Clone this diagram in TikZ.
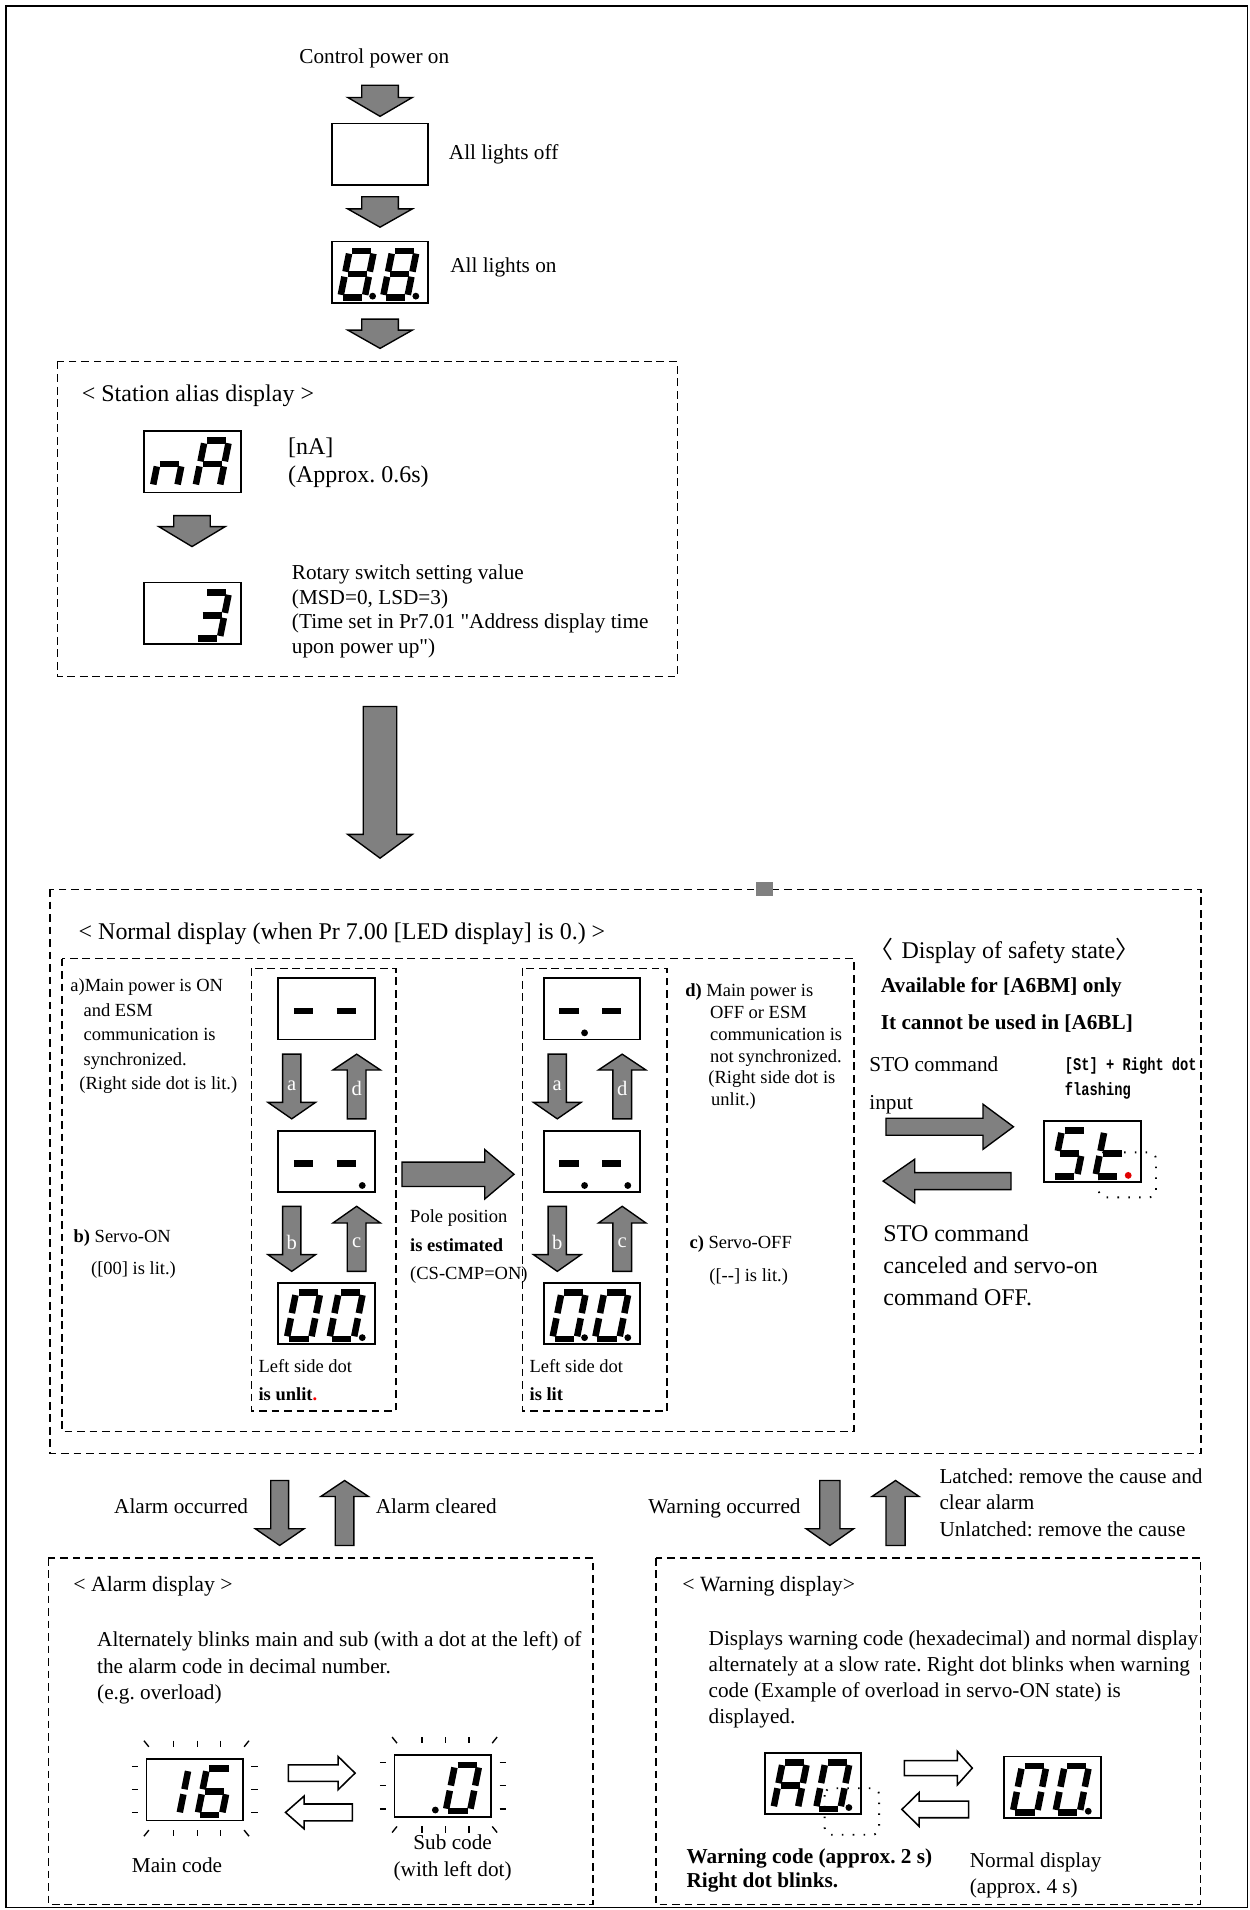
\documentclass[tikz,border=0pt]{standalone}
\usepackage{fontspec}
\setmainfont{Liberation Serif}[Ligatures=TeXOff]
\newfontfamily\cjkfont{Noto Sans CJK SC}
\newfontfamily\stfont[FakeStretch=0.77]{Liberation Mono}
\usetikzlibrary{calc}
\definecolor{arrowgray}{RGB}{128,128,128}
\definecolor{dotred}{RGB}{225,0,0}
\newcommand{\fs}[2]{\fontsize{#1}{#2}\selectfont}
\frenchspacing

% seven segment pieces (origin bottom left of a digit, y down)
\newcommand{\segA}{\draw[seg] (2.1,-38) -- (17.9,-38);}
\newcommand{\segB}{\draw[seg] (20,-35.9) -- (20,-21.1);}
\newcommand{\segC}{\draw[seg] (20,-16.9) -- (20,-2.1);}
\newcommand{\segD}{\draw[seg] (2.1,0) -- (17.9,0);}
\newcommand{\segE}{\draw[seg] (0,-2.1) -- (0,-16.9);}
\newcommand{\segF}{\draw[seg] (0,-21.1) -- (0,-35.9);}
\newcommand{\segG}{\draw[seg] (2.1,-19) -- (17.9,-19);}
\newcommand{\leddigit}[3]{%
  \begin{scope}[shift={($(#1.south west)+({7+35*#2},-4.5)$)},xslant=0.2]
    \foreach \sg in {#3}{\csname seg\sg\endcsname}
  \end{scope}}
\newcommand{\leddot}[3][black]{%
  \fill[#1] ($(#2.south west)+({33.5+35.5*#3},-5.5)$) circle (2.8);}
\newcommand{\blinkmarks}[1]{%
  \draw[blink] ($(#1.north west)+(-2,-15)$) -- ($(#1.north west)+(2,-10)$);
  \draw[blink] ($(#1.north east)+(1,-10)$) -- ($(#1.north east)+(5,-15)$);
  \draw[blink] ($(#1.south west)+(-2,13)$) -- ($(#1.south west)+(2,8)$);
  \draw[blink] ($(#1.south east)+(1,8)$) -- ($(#1.south east)+(5,13)$);
  \foreach \dx in {22.5,42,61}{
    \draw[blink] ($(#1.north west)+(\dx,-15)$) -- ($(#1.north west)+(\dx,-10)$);
    \draw[blink] ($(#1.south west)+(\dx,8)$) -- ($(#1.south west)+(\dx,13)$);}
  \foreach \dy in {6,25,44}{
    \draw[blink] ($(#1.north west)+(-12,\dy)$) -- ($(#1.north west)+(-7,\dy)$);
    \draw[blink] ($(#1.north east)+(7,\dy)$) -- ($(#1.north east)+(12,\dy)$);}}
% block arrows: x, tail, tip, shaft, head, head length (signed)
\newcommand{\garrowv}[7][garrow]{%
  \draw[#1] ({#2-#5/2},#3) -- ({#2+#5/2},#3) -- ({#2+#5/2},{#4-(#7)})
    -- ({#2+#6/2},{#4-(#7)}) -- (#2,#4) -- ({#2-#6/2},{#4-(#7)})
    -- ({#2-#5/2},{#4-(#7)}) -- cycle;}
\newcommand{\garrowh}[7][garrow]{%
  \draw[#1] (#3,{#2-#5/2}) -- ({#4-(#7)},{#2-#5/2}) -- ({#4-(#7)},{#2-#6/2})
    -- (#4,#2) -- ({#4-(#7)},{#2+#6/2}) -- ({#4-(#7)},{#2+#5/2})
    -- (#3,{#2+#5/2}) -- cycle;}

\tikzset{
  ledbox/.style={draw,line width=1pt,fill=white,minimum width=1.98cm,
    minimum height=1.26cm,inner sep=0pt,outer sep=0pt},
  seg/.style={line width=3.8pt},
  garrow/.style={draw,line width=0.8pt,fill=arrowgray},
  harrow/.style={draw,line width=0.9pt,fill=white},
  dashbox/.style={line width=0.8pt,dash pattern=on 4.5pt off 2.8pt},
  blink/.style={line width=0.8pt},
  blinkdot/.style={line width=1.1pt,dash pattern=on 0.9pt off 5.4pt,rounded corners=4pt},
  txt/.style={inner sep=0pt,anchor=base west,align=left},
  letter/.style={inner sep=0pt,text=white,font=\fs{12}{12}}
}

\begin{document}
\begin{tikzpicture}[x=0.025cm,y=-0.025cm]
\useasboundingbox (0,0) rectangle (1026,1568);
\draw[line width=1pt] (5,5) rectangle (1024,1566);

% power up
\node[txt,font=\fs{12.4}{14.4}] (cpon) at (245.5,52.5) {Control power on};
\garrowv{312}{70}{95.5}{30}{53}{15.5}
\node[ledbox] (off) at (312,126.7) {};
\node[txt,font=\fs{12.4}{14.4}] (offlbl) at (368.3,130.8) {All lights off};
\garrowv{312}{161.5}{186.5}{30}{53}{15}
\node[ledbox] (allon) at (312,223.4) {};
\leddigit{allon}{0}{A,B,C,D,E,F,G}
\leddigit{allon}{1}{A,B,C,D,E,F,G}
\leddot{allon}{0}\leddot{allon}{1}
\node[txt,font=\fs{12.4}{14.4}] (onlbl) at (369.4,223.5) {All lights on};
\garrowv{312}{262}{286}{30}{53}{15}

% station alias
\draw[dashbox] (47,297) rectangle (556,555.5);
\node[txt,font=\fs{14}{16}] (sthead) at (66.9,329.4) {< Station alias display >};
\node[ledbox] (na) at (158,379.1) {};
\leddigit{na}{0}{C,E,G}
\leddigit{na}{1}{A,B,C,E,F,G}
\node[txt,font=\fs{14}{16.6}] (nalbl) at (236.3,396.4) {[nA]\\(Approx. 0.6s)};
\garrowv{157.6}{423.3}{448.7}{30}{54.5}{16.4}
\node[ledbox] (rot) at (158,503.5) {};
\leddigit{rot}{1}{A,B,C,D,G}
\node[txt,font=\fs{12.4}{14.4}] (rotlbl) at (239.4,536.4) {Rotary switch setting value\\(MSD=0, LSD=3)\\(Time set in Pr7.01 "Address display time\\upon power up")};

\garrowv{312}{580}{704.5}{27.5}{53}{19.5}

% normal display
\draw[dashbox] (41,730) rectangle (986,1193);
\fill[arrowgray] (621,724) rectangle (634.5,735.5);
\node[txt,font=\fs{14}{16}] (nhead) at (64.3,771) {< Normal display (when Pr 7.00 [LED display] is 0.) >};
\draw[dashbox] (51,787) rectangle (701,1175);
\draw[dashbox] (206.6,795) rectangle (325,1158.4);
\draw[dashbox] (429,795) rectangle (547.7,1158.4);
\foreach \dx/\col in {0/on,218/of}{
  \node[ledbox] (\col a) at (268+\dx,828.2) {};
  \node[ledbox] (\col b) at (268+\dx,953.5) {};
  \node[ledbox] (\col c) at (268+\dx,1078.4) {};
  \leddigit{\col a}{0}{G}\leddigit{\col a}{1}{G}
  \leddigit{\col b}{0}{G}\leddigit{\col b}{1}{G}
  \leddigit{\col c}{0}{A,B,C,D,E,F}\leddigit{\col c}{1}{A,B,C,D,E,F}
  \leddot{\col b}{1}\leddot{\col c}{1}
  \garrowv{239.5+\dx}{865.4}{918.5}{15}{39}{13.5}
  \garrowv{292.8+\dx}{918.5}{865.4}{15.4}{39}{-13}
  \garrowv{239.5+\dx}{990.3}{1043.7}{15}{39}{13.7}
  \garrowv{292.8+\dx}{1043.7}{990.3}{15.4}{39}{-13.7}
  \node[letter] (\col la) at (239.5+\dx,891) {a};
  \node[letter] (\col ld) at (292.8+\dx,893.5) {d};
  \node[letter] (\col lb) at (239.5+\dx,1020) {b};
  \node[letter] (\col lc) at (292.8+\dx,1020) {c};
}
\leddot{ofa}{0}\leddot{ofb}{0}\leddot{ofc}{0}
\garrowh{964}{330}{422}{20}{40.5}{24}
\node[txt,font=\fs{10.8}{14.3}] (atxt) at (57.5,894.7) {a)Main power is ON\\\hspace*{7.7pt}and ESM\\\hspace*{7.7pt}communication is\\\hspace*{7.7pt}synchronized.\\\hspace*{5.3pt}(Right side dot is lit.)};
\node[txt,font=\fs{10.8}{19.1}] (btxt) at (60.2,1046.5) {\textbf{b)} Servo-ON\\\hspace*{10.2pt}([00] is lit.)};
\node[txt,font=\fs{10.8}{16.8}] (poletxt) at (336.5,1050.7) {Pole position\\\textbf{is estimated}\\(CS-CMP=ON)};
\node[txt,font=\fs{10.8}{16.6}] (unlit) at (212,1150) {Left side dot\\\textbf{is unlit\textcolor{red}{.}}};
\node[txt,font=\fs{10.8}{16.6}] (lit) at (434.5,1150) {Left side dot\\\textbf{is lit}};
\node[txt,font=\fs{10.8}{12.7}] (dtxt) at (562.3,907.6) {\textbf{d)} Main power is\\\hspace*{14.5pt}OFF or ESM\\\hspace*{14.5pt}communication is\\\hspace*{14.5pt}not synchronized.\\\hspace*{13.5pt}(Right side dot is\\\hspace*{15.1pt}unlit.)};
\node[txt,font=\fs{10.8}{19.1}] (ctxt) at (565.8,1052) {\textbf{c)} Servo-OFF\\\hspace*{11.6pt}([--] is lit.)};

% safety state
\node[txt,font=\fs{14}{16}] (sfhead) at (713.8,786.5) {{\cjkfont 〈}\hspace{4.5pt}Display of safety state{\cjkfont 〉}};
\node[txt,font=\bfseries\fs{12.4}{21.5}] (avail) at (722.9,845.3) {Available for [A6BM] only\\It cannot be used in [A6BL]};
\node[txt,font=\fs{12.4}{22}] (stoin) at (713.5,910.5) {STO command\\input};
\node[txt,font={\stfont\bfseries\fs{10.4}{14.2}}] (stlbl) at (874,899) {[St] + Right dot\\flashing};
\garrowh{925}{727.3}{832}{14}{37}{25}
\garrowh{969.6}{830}{725}{14}{36}{-26}
\node[ledbox] (st) at (896.8,945.2) {};
\draw[blinkdot] (902,946) rectangle (949,983);
\leddigit{st}{0}{A,F,G,C,D}
\leddigit{st}{1}{D,E,F,G}
\leddot[dotred]{st}{1}
\node[txt,font=\fs{14}{18.6}] (stoend) at (725,1071.5) {STO command\\canceled and servo-on\\command OFF.};

% transitions
\node[txt,font=\fs{12.4}{14.4}] (alocc) at (93.5,1242.2) {Alarm occurred};
\garrowv{229.6}{1215.4}{1268.7}{14.6}{40}{13.7}
\garrowv{282.9}{1268.7}{1215.4}{15.3}{39}{-13.1}
\node[txt,font=\fs{12.4}{14.4}] (alclr) at (308.3,1242.2) {Alarm cleared};
\node[txt,font=\fs{12.4}{14.4}] (wnocc) at (532,1242.2) {Warning occurred};
\garrowv{681.3}{1215.4}{1268.7}{16.6}{39}{13.7}
\garrowv{735.2}{1268.7}{1215.4}{15.7}{38.6}{-13.1}
\node[txt,font=\fs{12.4}{15.5}] (latch) at (771,1261.4) {Latched: remove the cause and\\clear alarm\\Unlatched: remove the cause};

% alarm display
\draw[dashbox] (39.6,1279) rectangle (486.8,1563.5);
\node[txt,font=\fs{12.7}{15}] (alhead) at (60,1306.5) {< Alarm display >};
\node[txt,font=\fs{12.4}{15.6}] (altxt) at (79.5,1395.5) {Alternately blinks main and sub (with a dot at the left) of\\the alarm code in decimal number.\\(e.g. overload)};
\node[ledbox] (amain) at (159.8,1469.2) {};
\leddigit{amain}{0}{B,C}
\leddigit{amain}{1}{A,C,D,E,F,G}
\blinkmarks{amain}
\garrowh[harrow]{1455.6}{236.7}{291.5}{13.6}{27.4}{14}
\garrowh[harrow]{1487.9}{289.2}{234.4}{13.9}{26.8}{-15.2}
\node[ledbox] (asub) at (363.5,1466.2) {};
\leddigit{asub}{1}{A,B,C,D,E,F}
\leddot{asub}{0}
\blinkmarks{asub}
\node[txt,font=\fs{12.4}{14.4}] (maincode) at (108,1537.5) {Main code};
\node[inner sep=0pt,anchor=base,align=center,font=\fs{12.4}{16}] (subcode) at (371.6,1540.6) {Sub code\\(with left dot)};

% warning display
\draw[dashbox] (538.6,1279) rectangle (985.5,1563.5);
\node[txt,font=\fs{12.7}{15}] (wnhead) at (560,1306.5) {< Warning display>};
\node[txt,font=\fs{12.4}{15.2}] (wntxt) at (581.5,1414.6) {Displays warning code (hexadecimal) and normal display\\alternately at a slow rate. Right dot blinks when warning\\code (Example of overload in servo-ON state) is\\displayed.};
\node[ledbox] (wcode) at (667.5,1464.2) {};
\draw[blinkdot] (677,1468) rectangle (721.7,1506.2);
\leddigit{wcode}{0}{A,B,C,E,F,G}
\leddigit{wcode}{1}{A,B,C,D,E,F}
\leddot{wcode}{1}
\garrowh[harrow]{1451.5}{742.5}{798.2}{12.3}{27.4}{12.2}
\garrowh[harrow]{1485.4}{795.2}{740.4}{13.7}{27.9}{-14.2}
\node[ledbox] (wnorm) at (864,1467.2) {};
\leddigit{wnorm}{0}{A,B,C,D,E,F}
\leddigit{wnorm}{1}{A,B,C,D,E,F}
\leddot{wnorm}{1}
\node[txt,font=\bfseries\fs{12.4}{14}] (wncode) at (563.3,1549.3) {Warning code (approx. 2 s)\\Right dot blinks.};
\node[txt,font=\fs{12.4}{15.3}] (normdisp) at (795.9,1554.6) {Normal display\\(approx. 4 s)};
\end{tikzpicture}
\end{document}
